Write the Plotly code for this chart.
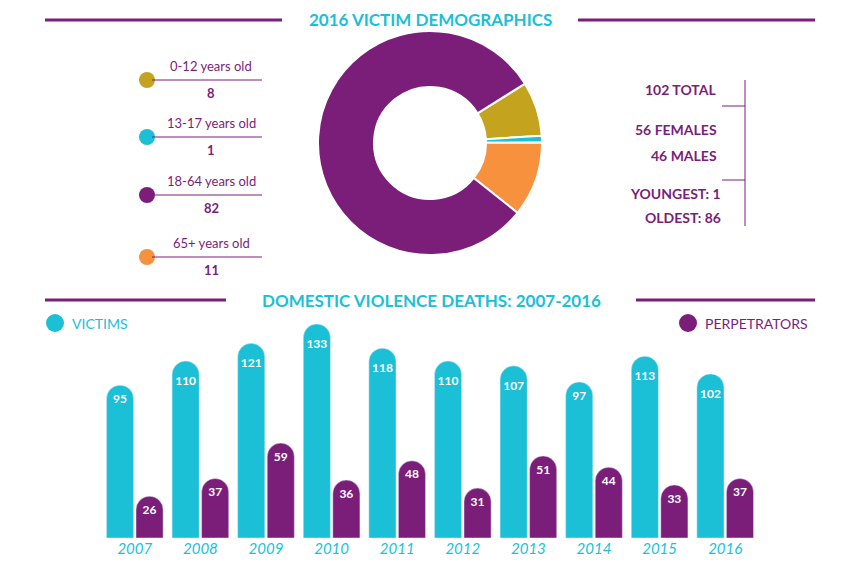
import plotly.graph_objects as go

years = ["2007","2008","2009","2010","2011","2012","2013","2014","2015","2016"]
victims = [95,110,121,133,118,110,107,97,113,102]
perps = [26,37,59,36,48,31,51,44,33,37]
age_labels = ["0-12 years old","13-17 years old","18-64 years old","65+ years old"]
age_values = [8,1,82,11]
stats = ["102 TOTAL","56 FEMALES","46 MALES","YOUNGEST: 1","OLDEST: 86"]

CY="#1BBFD6"; PU="#7B1E7A"; GO="#C4A41E"; OR="#F7913D"
W,H=861,569
OFF=8
def px(x): return (x-OFF)/W
def py(y): return 1-(y-OFF)/H

order=[0,1,3,2]
cols=[GO,CY,PU,OR]
fig=go.Figure()
fig.add_trace(go.Pie(labels=[age_labels[i] for i in order],values=[age_values[i] for i in order],hole=0.5,sort=False,direction="clockwise",
    rotation=58,marker=dict(colors=[cols[i] for i in order],line=dict(color="white",width=2)),
    textinfo="none",hoverinfo="label+value",showlegend=False,
    domain=dict(x=[px(318),px(542)],y=[py(255),py(31)])))
fig.add_trace(go.Bar(x=years,y=victims,marker_color=CY,text=[f"<b>{v}</b>" for v in victims],textposition="inside",
    insidetextanchor="end",textfont=dict(color="white",size=12,family="Lato"),showlegend=False,textangle=0))
fig.add_trace(go.Bar(x=years,y=perps,marker_color=PU,text=[f"<b>{v}</b>" for v in perps],textposition="inside",
    insidetextanchor="end",textfont=dict(color="white",size=12,family="Lato"),showlegend=False,textangle=0))

shapes=[]; ann=[]
def line(x0,y0,x1,y1,c=PU,w=2):
    shapes.append(dict(type="line",xref="paper",yref="paper",x0=px(x0),y0=py(y0),x1=px(x1),y1=py(y1),line=dict(color=c,width=w)))
def text(x,y,t,c=PU,s=14,anchor="center",bold=False):
    ann.append(dict(x=px(x),y=py(y),xref="paper",yref="paper",text=f"<b>{t}</b>" if bold else t,showarrow=False,
        xanchor=anchor,yanchor="middle",font=dict(color=c,size=s,family="Lato")))
def dot(x,y,c,r=8):
    shapes.append(dict(type="circle",xref="paper",yref="paper",x0=px(x-r),x1=px(x+r),y0=py(y+r),y1=py(y-r),fillcolor=c,line=dict(width=0)))

line(45,20,282,20,w=3); line(578,20,815,20,w=3)
text(430,20,"2016 VICTIM DEMOGRAPHICS",CY,17,bold=True)
line(45,300,226,300,w=3); line(636,300,815,300,w=3)
text(431,300,"DOMESTIC VIOLENCE DEATHS: 2007-2016",CY,17,bold=True)

ys=[80,137,195,257]
for lab,v,c,y in zip(age_labels,age_values,cols,ys):
    dot(147,y,c)
    line(152,y,262,y,c=PU,w=1)
    text(211,y-14,lab,PU,13)
    text(211,y+13,f"<b>{v}</b>",PU,13)

sy=[90,129,155,193,217]; sx=[719,719,719,723,723]
for t,x,y in zip(stats,sx,sy):
    text(x,y,f"<b>{t}</b>",PU,14,anchor="right")
line(745,80,745,226,w=1); line(722,106,745,106,w=1); line(722,180,745,180,w=1)

dot(55,323,CY,9); text(70,323,"VICTIMS",CY,14,anchor="left")
dot(688,323,PU,9); text(703,323,"PERPETRATORS",PU,14,anchor="left")

fig.update_layout(width=W,height=H,margin=dict(l=0,r=0,t=0,b=0),paper_bgcolor="white",plot_bgcolor="white",
    barmode="group",bargap=0.1,bargroupgap=0.08,barcornerradius=14,shapes=shapes,annotations=ann,
    xaxis=dict(domain=[px(102),px(758)],showline=False,ticks="",anchor="y",
        tickfont=dict(color=CY,size=15,family="Lato",style="italic")),
    yaxis=dict(domain=[py(538),py(324)],range=[0,133],visible=False,showgrid=False))
fig.write_html("out.html")
